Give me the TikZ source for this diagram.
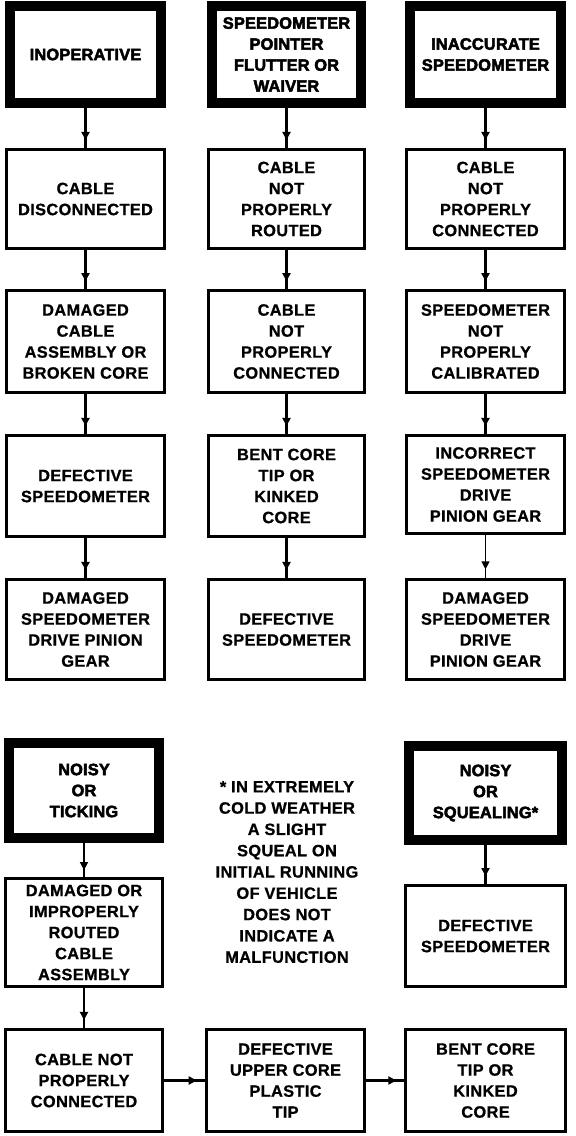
\documentclass[tikz,border=0pt]{standalone}
\usepackage{fontspec}
\usetikzlibrary{arrows.meta,decorations.markings}
\newfontfamily\bodyf[FakeBold=0.8,LetterSpace=2]{Liberation Sans Bold}
\newfontfamily\headf[FakeBold=3,LetterSpace=1]{Liberation Sans Bold}
% #1 name, #2 x1, #3 y1, #4 x2, #5 y2, #6 text
\newcommand\mkbox[6]{\node[box, minimum width={#4-#2-3}, minimum height={#5-#3-3}] (#1) at ({(#2+#4)/2},{(#3+#5)/2}) {#6};}
\newcommand\mkhead[6]{\node[head, minimum width={#4-#2-10}, minimum height={#5-#3-10}] (#1) at ({(#2+#4)/2},{(#3+#5)/2}) {#6};}
\begin{document}
\begin{tikzpicture}[x=1pt,y=-1pt,
  box/.style={draw, line width=3.2pt, inner sep=0pt, align=center,
    font=\bodyf\fontsize{16.4}{21}\selectfont},
  head/.style={draw, line width=10pt, inner sep=0pt, align=center,
    font=\headf\fontsize{16.4}{21}\selectfont},
  note/.style={inner sep=0pt, align=center, font=\bodyf\fontsize{16.4}{21.3}\selectfont},
  conn/.style={line width=2.5pt, postaction={decorate},
    decoration={markings, mark=at position 0.8 with {\arrow{Triangle[length=8pt,width=8pt]}}}},
  thinconn/.style={conn, line width=1.5pt}]
\useasboundingbox (0,0) rectangle (576,1136);
% top headers
\mkhead{hA}{5}{1}{166}{108}{INOPERATIVE}
\mkhead{hB}{207}{1}{366}{108}{SPEEDOMETER\\POINTER\\FLUTTER OR\\WAIVER}
\mkhead{hC}{405}{1}{566}{108}{INACCURATE\\SPEEDOMETER}
% column 1
\mkbox{A1}{5}{148}{166}{250}{CABLE\\DISCONNECTED}
\mkbox{A2}{5}{289}{166}{394}{DAMAGED\\CABLE\\ASSEMBLY OR\\BROKEN CORE}
\mkbox{A3}{5}{434}{166}{538}{DEFECTIVE\\SPEEDOMETER}
\mkbox{A4}{5}{578}{166}{681}{DAMAGED\\SPEEDOMETER\\DRIVE PINION\\GEAR}
% column 2
\mkbox{B1}{207}{148}{366}{250}{CABLE\\NOT\\PROPERLY\\ROUTED}
\mkbox{B2}{207}{289}{366}{394}{CABLE\\NOT\\PROPERLY\\CONNECTED}
\mkbox{B3}{207}{434}{366}{538}{BENT CORE\\TIP OR\\KINKED\\CORE}
\mkbox{B4}{207}{578}{366}{681}{DEFECTIVE\\SPEEDOMETER}
% column 3
\mkbox{C1}{405}{148}{566}{250}{CABLE\\NOT\\PROPERLY\\CONNECTED}
\mkbox{C2}{405}{289}{566}{394}{SPEEDOMETER\\NOT\\PROPERLY\\CALIBRATED}
\mkbox{C3}{405}{434}{566}{535}{INCORRECT\\SPEEDOMETER\\DRIVE\\PINION GEAR}
\mkbox{C4}{405}{578}{566}{681}{DAMAGED\\SPEEDOMETER\\DRIVE\\PINION GEAR}
% bottom section
\mkhead{hD}{4}{738}{164}{843}{NOISY\\OR\\TICKING}
\mkhead{hF}{404}{741}{567}{845}{NOISY\\OR\\SQUEALING*}
\mkbox{D1}{4}{877}{164}{988}{DAMAGED OR\\IMPROPERLY\\ROUTED\\CABLE\\ASSEMBLY}
\mkbox{F1}{404}{884}{567}{988}{DEFECTIVE\\SPEEDOMETER}
\mkbox{D2}{4}{1028}{164}{1133}{CABLE NOT\\PROPERLY\\CONNECTED}
\mkbox{E2}{205}{1028}{366}{1133}{DEFECTIVE\\UPPER CORE\\PLASTIC\\TIP}
\mkbox{F2}{404}{1028}{567}{1133}{BENT CORE\\TIP OR\\KINKED\\CORE}
\node[note] (N) at (287,872) {* IN EXTREMELY\\COLD WEATHER\\A SLIGHT\\SQUEAL ON\\INITIAL RUNNING\\OF VEHICLE\\DOES NOT\\INDICATE A\\MALFUNCTION};
% connectors
\draw[conn] (hA.south) -- (A1.north);
\draw[conn] (A1.south) -- (A2.north);
\draw[conn] (A2.south) -- (A3.north);
\draw[conn] (A3.south) -- (A4.north);
\draw[conn] (hB.south) -- (B1.north);
\draw[conn] (B1.south) -- (B2.north);
\draw[conn] (B2.south) -- (B3.north);
\draw[conn] (B3.south) -- (B4.north);
\draw[conn] (hC.south) -- (C1.north);
\draw[conn] (C1.south) -- (C2.north);
\draw[conn] (C2.south) -- (C3.north);
\draw[thinconn] (C3.south) -- (C4.north);
\draw[thinconn] (hD.south) -- (D1.north);
\draw[conn] (D1.south) -- (D2.north);
\draw[conn] (hF.south) -- (F1.north);
\draw[conn] (D2.east) -- (E2.west);
\draw[conn] (E2.east) -- (F2.west);
\end{tikzpicture}
\end{document}
